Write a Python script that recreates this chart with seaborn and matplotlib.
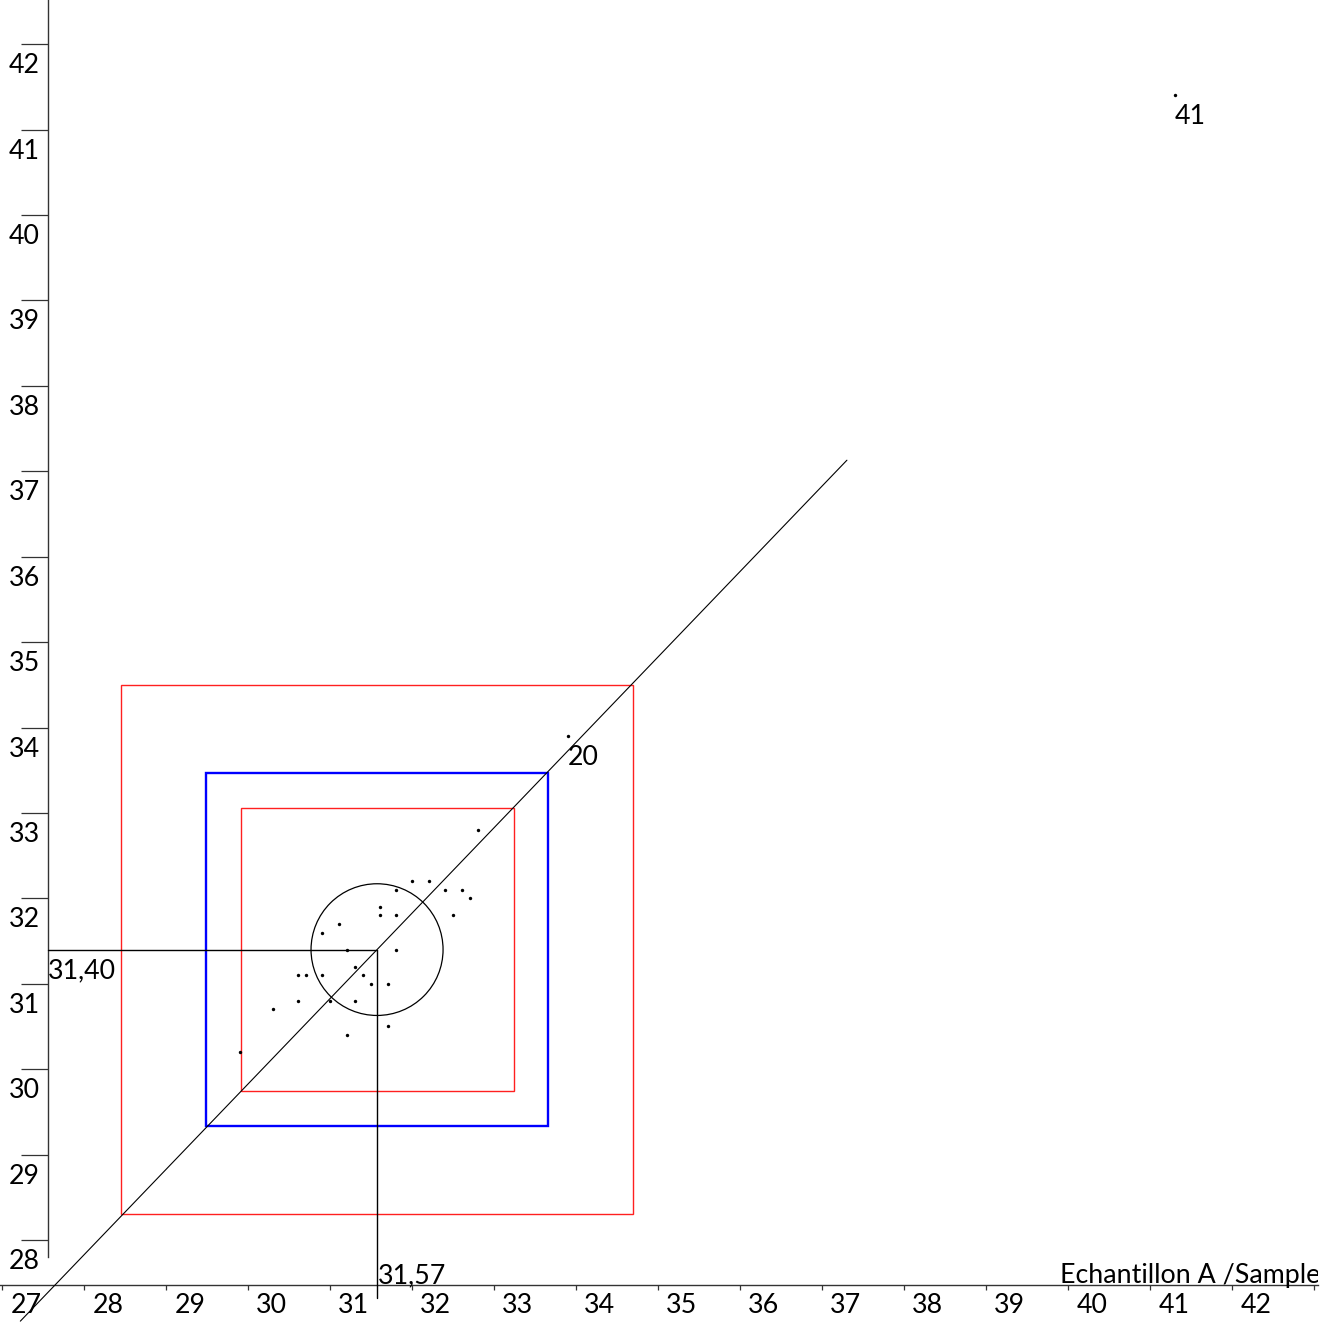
import matplotlib
matplotlib.use("Agg")
import matplotlib.pyplot as plt
from matplotlib.patches import Rectangle, Ellipse
from matplotlib.transforms import offset_copy, Bbox
import seaborn as sns

# Results per laboratory: sample A (x) against sample B (y)
sample_a = [32.0, 32.2, 31.8, 32.4, 32.6, 32.7, 31.6, 31.6, 31.8, 32.5,
            31.1, 30.9, 31.2, 31.8, 31.3, 30.6, 30.7, 30.9, 31.4, 31.5,
            31.7, 30.6, 31.0, 31.3, 31.7, 31.2, 30.3, 29.9, 32.8, 33.9, 41.3]
sample_b = [32.2, 32.2, 32.1, 32.1, 32.1, 32.0, 31.9, 31.8, 31.8, 31.8,
            31.7, 31.6, 31.4, 31.4, 31.2, 31.1, 31.1, 31.1, 31.1, 31.0,
            31.0, 30.8, 30.8, 30.8, 30.5, 30.4, 30.7, 30.2, 32.8, 33.9, 41.4]
flagged_labs = ["20", "41"]
flagged_index = [29, 30]

median_a = 31.57
median_b = 31.40

# Half sides of the limit squares and radii of the central circle
outer_half = [3.12, 3.10]
blue_half = [2.085, 2.067]
inner_half = [1.665, 1.657]
circle_radius = [0.805, 0.771]

# Extent of the 1:1 line (sample A values)
diag_start = 27.22
diag_end = 37.30

x_ticks = list(range(27, 44))
x_tick_labels = [str(v) for v in range(27, 43)]
y_ticks = list(range(28, 43))
y_tick_labels = [str(v) for v in y_ticks]
x_title = "Echantillon A /Sample"

sns.set_theme(style="white")
plt.rcParams["font.family"] = ["Lato", "DejaVu Sans"]

fig = plt.figure(figsize=(13.30, 13.22), dpi=100)
ax = fig.add_axes([0, 0, 1, 1])
ax.set_xlim(26.972, 43.191)
ax.set_ylim(27.040, 42.518)
ax.set_facecolor("white")

axis_x = 27.561   # where the vertical axis sits
axis_y = 27.479   # where the horizontal axis sits

for side in ("top", "right"):
    ax.spines[side].set_visible(False)
ax.spines["left"].set_position(("data", axis_x))
ax.spines["bottom"].set_position(("data", axis_y))
ax.spines["left"].set_bounds(27.80, 42.518)
ax.spines["bottom"].set_bounds(26.972, 43.04)
for side in ("left", "bottom"):
    ax.spines[side].set_color("#333333")
    ax.spines[side].set_linewidth(1.0)

ax.set_xticks(x_ticks)
ax.set_yticks(y_ticks)
ax.tick_params(axis="x", direction="out", length=3.6, width=0.9, color="#333333",
               labelbottom=False, bottom=True)
ax.tick_params(axis="y", direction="out", length=19.2, width=0.9, color="#333333",
               labelleft=False, left=True)
ax.grid(False)

fs = 19.3

def shifted(dx, dy):
    return offset_copy(ax.transData, fig=fig, x=dx, y=dy, units="dots")

for v, lab in zip(x_ticks, x_tick_labels):
    ax.text(v, axis_y, lab, transform=shifted(8, -28.5), ha="left", va="baseline",
            fontsize=fs, color="black")
for v, lab in zip(y_ticks, y_tick_labels):
    ax.text(axis_x, v, lab, transform=shifted(-39.5, -29), ha="left", va="baseline",
            fontsize=fs, color="black")

# Limit squares centred on the medians
def square(half, color, lw):
    ax.add_patch(Rectangle((median_a - half[0], median_b - half[1]), 2 * half[0], 2 * half[1],
                           fill=False, edgecolor=color, linewidth=lw, zorder=2))

square(outer_half, "#ff2020", 1.0)
square(blue_half, "#0000ff", 1.7)
square(inner_half, "#ff2020", 1.0)

ax.add_patch(Ellipse((median_a, median_b), 2 * circle_radius[0], 2 * circle_radius[1],
                     fill=False, edgecolor="black", linewidth=0.9, zorder=3))

# 1:1 line through the median point
offset = median_a - median_b
ax.plot([diag_start, diag_end], [diag_start - offset, diag_end - offset],
        color="black", linewidth=0.8, zorder=3)

# Median crosshair
ax.plot([axis_x, median_a], [median_b, median_b], color="black", linewidth=1.0, zorder=3)
ax.plot([median_a, median_a], [median_b, 27.32], color="black", linewidth=1.0, zorder=3)

ax.text(axis_x, median_b, f"{median_b:.2f}".replace(".", ","), transform=shifted(0, -29),
        ha="left", va="baseline", fontsize=fs, color="black")
ax.text(median_a, axis_y, f"{median_a:.2f}".replace(".", ","), transform=shifted(1, 1),
        ha="left", va="baseline", fontsize=fs, color="black")

sns.scatterplot(x=sample_a, y=sample_b, ax=ax, color="black", s=6, linewidth=0,
                legend=False, zorder=4)

for lab, i in zip(flagged_labs, flagged_index):
    ax.text(sample_a[i], sample_b[i], lab, transform=shifted(0, -29),
            ha="left", va="baseline", fontsize=fs, color="black")

t = ax.text(39.90, axis_y, x_title, transform=shifted(0, 1.5), ha="left", va="baseline",
            fontsize=fs, color="black")
t.set_clip_box(Bbox.from_extents(0, 0, 1318, 1322))
t.set_clip_on(True)

fig.savefig("out.png", dpi=100, facecolor="white")
